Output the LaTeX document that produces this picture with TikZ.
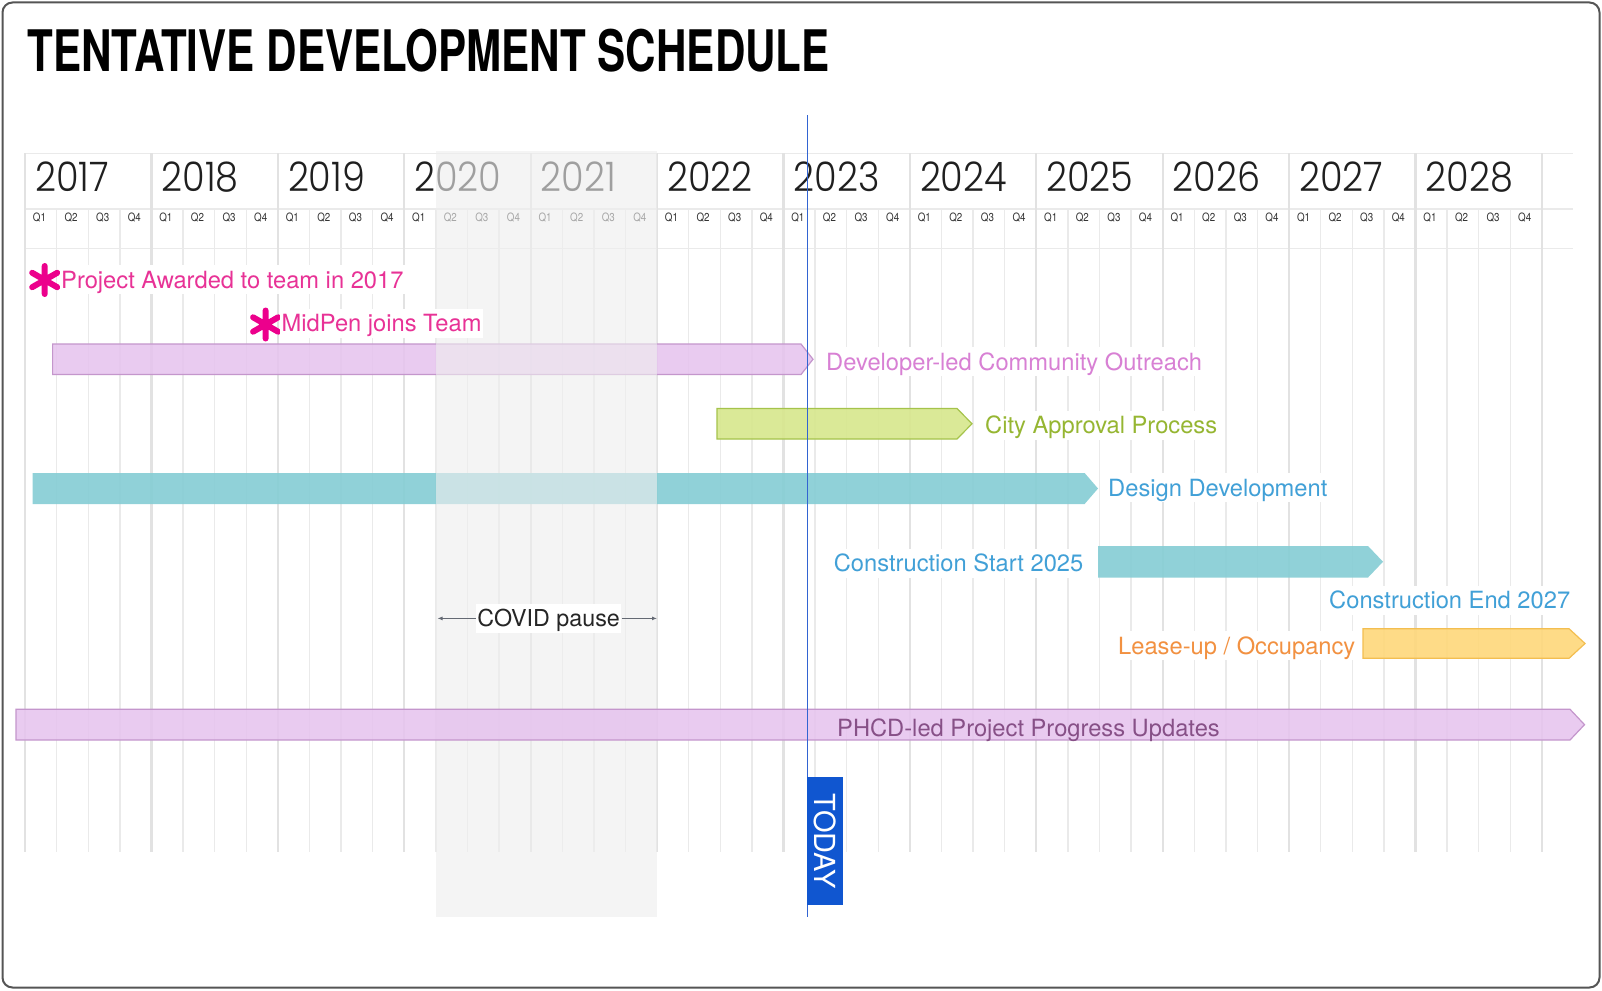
\documentclass[tikz,border=0pt]{standalone}
\usepackage{fontspec}
\usepackage{graphicx}
\setmainfont{TeX Gyre Heros}
\IfFontExistsTF{Poppins Light}
  {\newfontfamily\yrfont[FakeStretch=0.9]{Poppins Light}}
  {\newfontfamily\yrfont[FakeStretch=0.9]{Poppins}}
\newfontfamily\qfont[FakeStretch=0.85]{TeX Gyre Heros}
\usetikzlibrary{arrows.meta,calc}
\definecolor{framec}{RGB}{85,85,85}
\definecolor{gridc}{RGB}{234,234,234}
\definecolor{gridy}{RGB}{226,226,226}
\definecolor{pinkfill}{RGB}{230,196,238}
\definecolor{pinkedge}{RGB}{196,150,204}
\definecolor{devtext}{RGB}{216,128,212}
\definecolor{phcdtext}{RGB}{135,80,135}
\definecolor{greenfill}{RGB}{215,231,140}
\definecolor{greenedge}{RGB}{165,195,75}
\definecolor{greentext}{RGB}{150,182,50}
\definecolor{cyanfill}{RGB}{132,205,212}
\definecolor{bluetext}{RGB}{65,160,215}
\definecolor{leasefill}{RGB}{254,216,122}
\definecolor{leaseedge}{RGB}{243,190,80}
\definecolor{orangetext}{RGB}{242,145,65}
\definecolor{magstar}{RGB}{236,0,140}
\definecolor{magtext}{RGB}{232,50,150}
\definecolor{todayblue}{RGB}{16,86,208}
\definecolor{todayline}{RGB}{50,100,210}
\definecolor{covidgray}{RGB}{238,238,238}
\definecolor{arrowgray}{RGB}{100,105,115}
% style, x start, x body end, x tip, y top, y bottom
\newcommand\ganttbar[6]{\path[#1] (#2,#5) -- (#3,#5) -- (#4,{(#5+#6)/2}) -- (#3,#6) -- (#2,#6) -- cycle;}
\newcommand\astmark[2]{\draw[starstyle] (#1,{#2-14}) -- (#1,{#2+14}) ({#1-12.5},{#2-7.2}) -- ({#1+12.5},{#2+7.2}) ({#1-12.5},{#2+7.2}) -- ({#1+12.5},{#2-7.2});}
\begin{document}
\begin{tikzpicture}[x=1pt,y=-1pt,
  qline/.style={draw=gridc, line width=1.4pt},
  yline/.style={draw=gridy, line width=2.2pt},
  yearlbl/.style={font=\yrfont\fontsize{40.7}{44}\selectfont, text=black!88, inner sep=0pt, anchor=base west},
  qlbl/.style={font=\qfont\fontsize{11.5}{13}\selectfont, text=black!80, inner sep=0pt},
  lbl/.style={font=\fontsize{23.7}{26}\selectfont, inner xsep=1.5pt, inner ysep=1pt, text height=22pt, text depth=5pt, fill=white},
  pinkbar/.style={fill=pinkfill, fill opacity=0.88, draw=pinkedge, line width=1.2pt},
  greenbar/.style={fill=greenfill, fill opacity=0.9, draw=greenedge, line width=1.2pt},
  cyanbar/.style={fill=cyanfill, fill opacity=0.9},
  leasebar/.style={fill=leasefill, fill opacity=0.9, draw=leaseedge, line width=1.2pt},
  covidshade/.style={fill=covidgray, fill opacity=0.62},
  starstyle/.style={draw=magstar, line width=6pt, line cap=round},
  covarrow/.style={draw=arrowgray, line width=1.3pt, -{Latex[length=5pt,width=4pt]}},
  todaybox/.style={fill=todayblue, text=white, minimum width=127.7pt, minimum height=36pt, inner sep=0pt, font=\fontsize{29}{32}\selectfont},
  todayln/.style={draw=todayline, line width=1.3pt}
]
\useasboundingbox (0,0) rectangle (1602,990);
\fill[white] (0,0) rectangle (1602,990);
\draw[framec, line width=2pt, rounded corners=10pt] (2.5,2.5) rectangle (1599.5,987.5);

% title
\node[anchor=base west, inner sep=0pt] (title) at (27.5,71.7)
  {\resizebox{802pt}{42.4pt}{\bfseries TENTATIVE DEVELOPMENT SCHEDULE}};

% grid
\foreach \yy in {153.3,209,248.3} \draw[qline] (25,\yy) -- (1573,\yy);
\foreach \i in {0,...,48}{
  \pgfmathtruncatemacro\m{mod(\i,4)}
  \ifnum\m=0
    \draw[yline] ({25+31.6*\i},153.3) -- ({25+31.6*\i},852);
  \else
    \draw[qline] ({25+31.6*\i},209) -- ({25+31.6*\i},852);
  \fi
}
% year labels
\foreach \yr [count=\k from 0] in {2017,...,2028}
  \node[yearlbl] (y\yr) at ({25+126.4*\k+10},191.5) {\yr};
% quarter labels
\foreach \k in {0,...,11}
  \foreach \qq in {1,...,4}
    \node[qlbl] (q\k-\qq) at ({25+126.4*\k+31.6*(\qq-1)+14.5},218) {Q\qq};

% bars
\ganttbar{pinkbar}{52.6}{801}{813}{344}{374.5}
\ganttbar{greenbar}{717}{957}{972}{408.5}{439}
\ganttbar{cyanbar}{32.7}{1084.6}{1098}{473}{504}
\ganttbar{cyanbar}{1098}{1368}{1383}{546}{577.5}
\ganttbar{leasebar}{1363}{1569}{1585}{628.7}{658.3}

% covid shade
\fill[covidshade] (436,151) rectangle (657,916.7);

% PHCD bar
\ganttbar{pinkbar}{16}{1570}{1584.5}{709.3}{740}

% milestones
\astmark{44.7}{280}
\astmark{265.6}{324.5}
\node[lbl, anchor=west, text=magtext] (awarded) at (59.5,279.5) {Project Awarded to team in 2017};
\node[lbl, anchor=west, text=magtext] (midpen) at (280,323.3) {MidPen joins Team};

% bar labels
\node[lbl, anchor=west, text=devtext] (devlab) at (824.5,361.7) {Developer-led Community Outreach};
\node[lbl, anchor=west, text=greentext] (citylab) at (983.5,425) {City Approval Process};
\node[lbl, anchor=west, text=bluetext] (desiglab) at (1106.5,487.8) {Design Development};
\node[lbl, anchor=east, text=bluetext] (cstart) at (1085,563) {Construction Start 2025};
\node[lbl, anchor=west, text=bluetext] (cend) at (1327.5,600.2) {Construction End 2027};
\node[lbl, anchor=east, text=orangetext] (lease) at (1357,645.8) {Lease-up / Occupancy};
\node[lbl, anchor=west, text=phcdtext, fill=none] (phcd) at (835.5,728) {PHCD-led Project Progress Updates};

% covid pause
\node[lbl, font=\fontsize{23.3}{26}\selectfont, text=black!85] (covid) at (548.7,618.4) {COVID pause};
\coordinate (cl) at (437.5,618.4);
\coordinate (cr) at (657,618.4);
\draw[covarrow] (covid.west) -- (cl);
\draw[covarrow] (covid.east) -- (cr);

% today
\coordinate (ttop) at (807.3,115);
\coordinate (tbot) at (807.3,916.7);
\draw[todayln] (ttop) -- (tbot);
\node[todaybox, rotate=-90] (today) at (825.2,841.1) {TODAY};
\end{tikzpicture}
\end{document}
